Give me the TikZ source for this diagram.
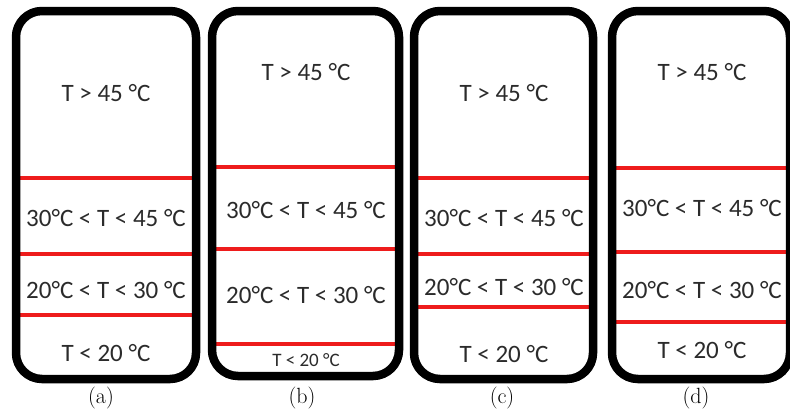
\documentclass[tikz,border=0pt]{standalone}
\usepackage{fontspec}
\usepackage{tikz}
\newfontfamily\zonefont{Carlito}
\definecolor{ZoneRed}{HTML}{EE1C1C}
\definecolor{ZoneText}{HTML}{2B2B2B}
\tikzset{
tankbox/.style={draw=black, line width=8.5pt, rounded corners=26pt},
zoneline/.style={draw=ZoneRed, line width=4pt},
zonelabel/.style={font=\zonefont\fontsize{25}{30}\selectfont, text=ZoneText, inner sep=0pt},
zonesmall/.style={font=\zonefont\fontsize{19}{23}\selectfont, text=ZoneText, inner sep=0pt},
panelcap/.style={font=\fontsize{22}{26}\selectfont, inner sep=0pt}
}
\begin{document}
\begin{tikzpicture}[x=1pt, y=-1pt]
\useasboundingbox[fill=white] (0,0) rectangle (790,418);
\begin{scope}
\clip (0,0) rectangle (790,418);
% (a)
\draw[zoneline] (16,178) -- (196,178);
\draw[zoneline] (16,254) -- (196,254);
\draw[zoneline] (16,315) -- (196,315);
\draw[tankbox] (16,11) rectangle (196,379);
\node[zonelabel] (a1) at (106,93) {T > 45 °C};
\node[zonelabel] (a2) at (106,218) {30°C < T < 45 °C};
\node[zonelabel] (a3) at (106,290) {20°C < T < 30 °C};
\node[zonelabel] (a4) at (106,353) {T < 20 °C};
\node[panelcap] (capa) at (101,398) {(a)};
% (b)
\draw[zoneline] (212,167) -- (399,167);
\draw[zoneline] (212,249) -- (399,249);
\draw[zoneline] (212,344) -- (399,344);
\draw[tankbox] (212,11) rectangle (399,376);
\node[zonelabel] (b1) at (306,72) {T > 45 °C};
\node[zonelabel] (b2) at (306,210) {30°C < T < 45 °C};
\node[zonelabel] (b3) at (306,295) {20°C < T < 30 °C};
\node[zonesmall] (b4) at (306,360) {T < 20 °C};
\node[panelcap] (capb) at (302,398) {(b)};
% (c)
\draw[zoneline] (414,178) -- (593,178);
\draw[zoneline] (414,254) -- (593,254);
\draw[zoneline] (414,307) -- (593,307);
\draw[tankbox] (414,11) rectangle (593,379);
\node[zonelabel] (c1) at (504,93) {T > 45 °C};
\node[zonelabel] (c2) at (504,218) {30°C < T < 45 °C};
\node[zonelabel] (c3) at (504,287) {20°C < T < 30 °C};
\node[zonelabel] (c4) at (504,354) {T < 20 °C};
\node[panelcap] (capc) at (502,398) {(c)};
% (d)
\draw[zoneline] (612,168) -- (790,168);
\draw[zoneline] (612,252) -- (790,252);
\draw[zoneline] (612,322) -- (790,322);
\draw[tankbox] (612,11) rectangle (790,379);
\node[zonelabel] (d1) at (702,72) {T > 45 °C};
\node[zonelabel] (d2) at (702,208) {30°C < T < 45 °C};
\node[zonelabel] (d3) at (702,290) {20°C < T < 30 °C};
\node[zonelabel] (d4) at (702,350) {T < 20 °C};
\node[panelcap] (capd) at (696,398) {(d)};
\end{scope}
\end{tikzpicture}
\end{document}
